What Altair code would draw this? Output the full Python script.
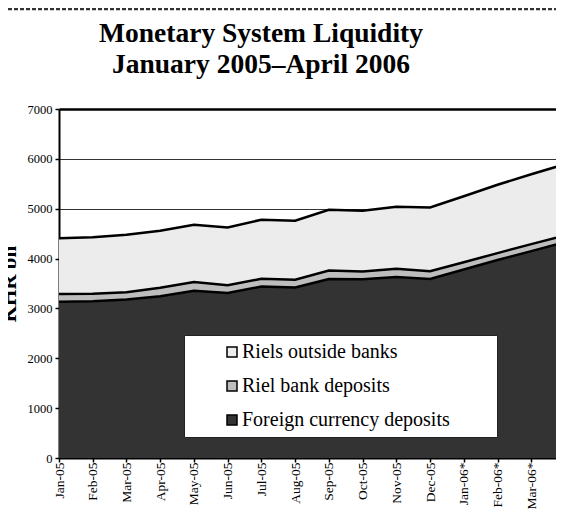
import pandas as pd
import altair as alt

MONTHS = ["Jan-05", "Feb-05", "Mar-05", "Apr-05", "May-05", "Jun-05", "Jul-05",
          "Aug-05", "Sep-05", "Oct-05", "Nov-05", "Dec-05",
          "Jan-06*", "Feb-06*", "Mar-06*", "Apr-06*"]

# KHR bn
FOREIGN = [3135, 3145, 3180, 3245, 3355, 3310, 3440, 3420, 3590, 3585, 3630, 3590,
           3780, 3970, 4150, 4330]
RIEL_DEP = [155, 150, 145, 170, 175, 155, 155, 155, 170, 155, 165, 155,
            145, 140, 140, 135]
OUTSIDE = [1120, 1135, 1155, 1145, 1150, 1160, 1185, 1185, 1220, 1220, 1245, 1280,
           1325, 1370, 1400, 1430]

SERIES = ["Riels outside banks", "Riel bank deposits", "Foreign currency deposits"]
COLORS = ["#ececec", "#bdbdbd", "#333333"]

SERIF = "Liberation Serif"

rows = []
for i, m in enumerate(MONTHS):
    lo = 0
    for name, vals in [("Foreign currency deposits", FOREIGN),
                       ("Riel bank deposits", RIEL_DEP),
                       ("Riels outside banks", OUTSIDE)]:
        hi = lo + vals[i]
        rows.append({"month": m, "series": name, "lo": lo, "hi": hi})
        lo = hi
df = pd.DataFrame(rows)

x = alt.X("month:O", sort=MONTHS, title=None,
          scale=alt.Scale(type="point", padding=0),
          axis=alt.Axis(labelAngle=-90, labelAlign="right", labelBaseline="middle",
                        labelFont=SERIF, labelFontSize=13.5, labelColor="black",
                        labelPadding=0, tickSize=4, tickColor="black", tickWidth=1.5,
                        domainColor="black", domainWidth=2, grid=False))

y_axis = alt.Axis(values=[0, 1000, 2000, 3000, 4000, 5000, 6000, 7000], format="d",
                  labelFont=SERIF, labelFontSize=12.5, labelColor="black",
                  labelPadding=3, tickSize=4, tickColor="black", tickWidth=1.5,
                  domainColor="black", domainWidth=2,
                  grid=True,
                  gridColor=alt.condition("datum.value == 7000", alt.value("black"), alt.value("#333333")),
                  gridWidth=alt.condition("datum.value == 7000", alt.value(2.5), alt.value(1)),
                  title="KHR bn", titleFont=SERIF, titleFontSize=21, titleFontWeight="bold",
                  titleColor="black", titleX=-40)

# trailing blanks widen the legend box on the right, like the original;
# the zero-width space keeps them from being trimmed
pad = "\u00a0" * 8 + "\u200b"

area = alt.Chart(df).mark_area(opacity=1).encode(
    x=x,
    y=alt.Y("lo:Q", scale=alt.Scale(domain=[0, 7000], nice=False), axis=y_axis),
    y2="hi:Q",
    color=alt.Color("series:N", scale=alt.Scale(domain=SERIES, range=COLORS),
                    legend=alt.Legend(title=None, orient="none", legendX=125, legendY=226,
                                      fillColor="white", strokeColor="#222222", padding=7,
                                      symbolType="square", symbolSize=100,
                                      symbolStrokeColor="black", symbolStrokeWidth=1.5,
                                      symbolOffset=31, symbolOpacity=1,
                                      labelFont=SERIF, labelFontSize=20, labelColor="black",
                                      labelExpr="datum.label + '" + pad + "'",
                                      labelOffset=0, rowPadding=14, labelLimit=400)),
)

lines = alt.Chart(df).mark_line(color="black", strokeWidth=2.5).encode(
    x=x,
    y=alt.Y("hi:Q"),
    detail="series:N",
)

# dashed frame line along the top of the page
frame = alt.Chart(pd.DataFrame({"k": [0]})).mark_rule(
    color="#333333", strokeWidth=2.5, strokeDash=[4, 2]
).encode(x=alt.value(-51), x2=alt.value(506), y=alt.value(-100))

chart = alt.layer(area, lines, frame).properties(
    width=506, height=349,
    autosize=alt.AutoSizeParams(type="none"),
    padding={"left": 51, "top": 101, "right": -9, "bottom": 52},
    title=alt.TitleParams(["Monetary System Liquidity", "January 2005\u2013April 2006"],
                          font=SERIF, fontSize=27.5, fontWeight="bold", color="black",
                          anchor="middle", frame="group", dx=-51, lineHeight=31.5,
                          offset=0, dy=71),
).configure_view(stroke=None)

chart.save("out.html", embed_options={"renderer": "svg", "actions": False})
